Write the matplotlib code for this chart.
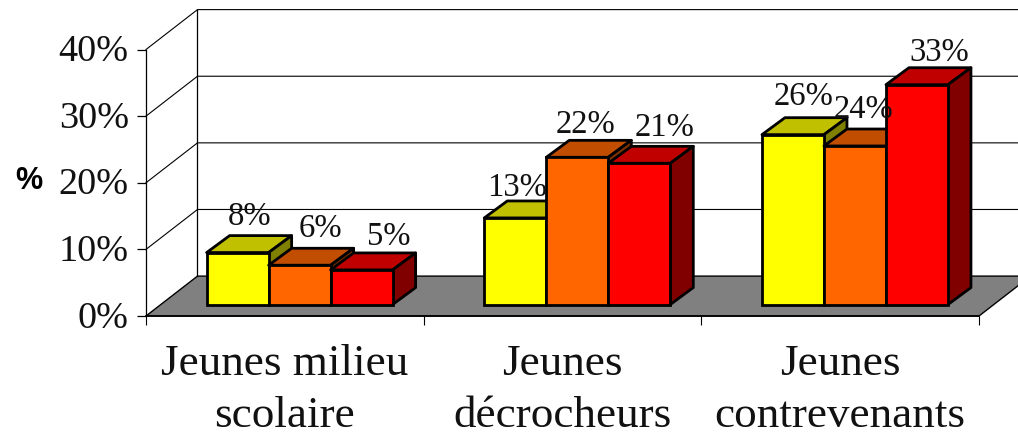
import matplotlib
matplotlib.use("Agg")
import matplotlib.pyplot as plt
from matplotlib.patches import Polygon
from matplotlib.transforms import ScaledTranslation

categories = ["Jeunes milieu\nscolaire", "Jeunes\ndécrocheurs", "Jeunes\ncontrevenants"]
yellow_values = [7.8, 13.0, 25.5]
orange_values = [5.9, 22.1, 23.8]
red_values = [5.2, 21.2, 33.0]
yellow_labels = ["8%", "13%", "26%"]
orange_labels = ["6%", "22%", "24%"]
red_labels = ["5%", "21%", "33%"]
y_ticks = [0, 10, 20, 30, 40]
y_tick_labels = ["0%", "10%", "20%", "30%", "40%"]
y_title = "%"

W, H = 1018, 437
PX_X = 277.7      # pixels per category
PX_Y = 6.68       # pixels per percent
WALL_DX = 51.5 / PX_X
WALL_DY = 40.0 / PX_Y
BAR_DX = 23.0 / PX_X
BAR_DY = 17.0 / PX_Y
BASE = 11.5 / PX_Y
GROUP_SHIFT = 14.8 / PX_X
BAR_W = 62.0 / PX_X

SERIF = "Liberation Serif"
plt.rcParams["font.family"] = SERIF

fig = plt.figure(figsize=(W / 100, H / 100), dpi=100, facecolor="white")
ax = fig.add_axes([146 / W, (H - 316) / H, (979 - 146) / W, (316 - 49.5) / H])
ax.set_xlim(0, 3)
ax.set_ylim(0, 40)
ax.patch.set_visible(False)

# walls and floor
ax.add_patch(Polygon([(0, 0), (3, 0), (3 + WALL_DX, WALL_DY), (WALL_DX, WALL_DY)],
                     closed=True, facecolor="#808080", edgecolor="black", lw=1.0,
                     clip_on=False, zorder=1))
ax.plot([WALL_DX, WALL_DX], [WALL_DY, 40 + WALL_DY], color="black", lw=0.9, clip_on=False, zorder=1.5)
for v in y_ticks[1:]:
    ax.plot([0, WALL_DX, 3 + WALL_DX], [v, v + WALL_DY, v + WALL_DY], color="black",
            lw=0.8, clip_on=False, zorder=0.5, solid_joinstyle="miter")

# bars
series = [
    (yellow_values, yellow_labels, "#FFFF00", "#C0C000", "#808000", -BAR_W,
     [(12, 19), (2, 13), (11, 21)]),
    (orange_values, orange_labels, "#FF6600", "#C04D00", "#803300", 0,
     [(21, 20), (8, 16), (9, 19)]),
    (red_values, red_labels, "#FF0000", "#C00000", "#800000", BAR_W,
     [(27, 16), (25, 19), (22, 15)]),
]
LW = 2.0
z = 3
for g in range(3):
    cx = g + 0.5 + GROUP_SHIFT
    for values, labels, front, top, side, off, nudges in series:
        x0 = cx + off - BAR_W / 2
        x1 = x0 + BAR_W
        y1 = BASE + values[g]
        ax.add_patch(Polygon([(x0, y1), (x1, y1), (x1 + BAR_DX, y1 + BAR_DY), (x0 + BAR_DX, y1 + BAR_DY)],
                             closed=True, facecolor=top, edgecolor="black", lw=LW,
                             clip_on=False, zorder=z, joinstyle="round"))
        ax.add_patch(Polygon([(x1, BASE), (x1 + BAR_DX, BASE + BAR_DY), (x1 + BAR_DX, y1 + BAR_DY), (x1, y1)],
                             closed=True, facecolor=side, edgecolor="black", lw=LW,
                             clip_on=False, zorder=z, joinstyle="round"))
        ax.bar(cx + off, values[g], width=BAR_W, bottom=BASE, color=front, edgecolor="black",
               lw=LW, clip_on=False, zorder=z + 0.5)
        z += 1

for g in range(3):
    cx = g + 0.5 + GROUP_SHIFT
    for values, labels, front, top, side, off, nudges in series:
        nx, ny = nudges[g]
        ax.annotate(labels[g], xy=(cx + off, BASE + values[g] + BAR_DY),
                    xytext=(nx * 0.72, ny * 0.72), textcoords="offset points",
                    ha="center", va="center", fontsize=23.5, color="#111111",
                    annotation_clip=False, zorder=40)

# axes
for s in ("top", "right"):
    ax.spines[s].set_visible(False)
for s in ("left", "bottom"):
    ax.spines[s].set_linewidth(0.9)
    ax.spines[s].set_zorder(2)
ax.spines["bottom"].set_linewidth(1.2)

ax.set_yticks(y_ticks)
ax.set_yticklabels(y_tick_labels, fontsize=27.5, color="#111111")
ax.tick_params(axis="y", length=6.5, width=0.9, pad=6)
up = ScaledTranslation(0, 1.5 / 72 * 0.72, fig.dpi_scale_trans)
for t in ax.get_yticklabels():
    t.set_transform(t.get_transform() + up)
ax.set_xticks([0, 1, 2, 3])
ax.set_xticklabels([])
ax.tick_params(axis="x", which="major", length=6.5, width=0.8)
ax.set_xticks([0.5, 1.5, 2.5], minor=True)
ax.set_xticklabels(categories, minor=True, fontsize=32.5, color="#111111")
ax.tick_params(axis="x", which="minor", length=0, pad=20)
for t in ax.get_xticklabels(minor=True):
    t.set_linespacing(1.38)

ax.set_ylabel(y_title, rotation=0, fontsize=22, fontweight="bold",
              family="Liberation Sans", color="black", va="center", ha="center")
ax.yaxis.set_label_coords((29 - 146) / (979 - 146), (316 - 181) / (316 - 49.5))

fig.savefig("out.png", dpi=100, facecolor="white")
